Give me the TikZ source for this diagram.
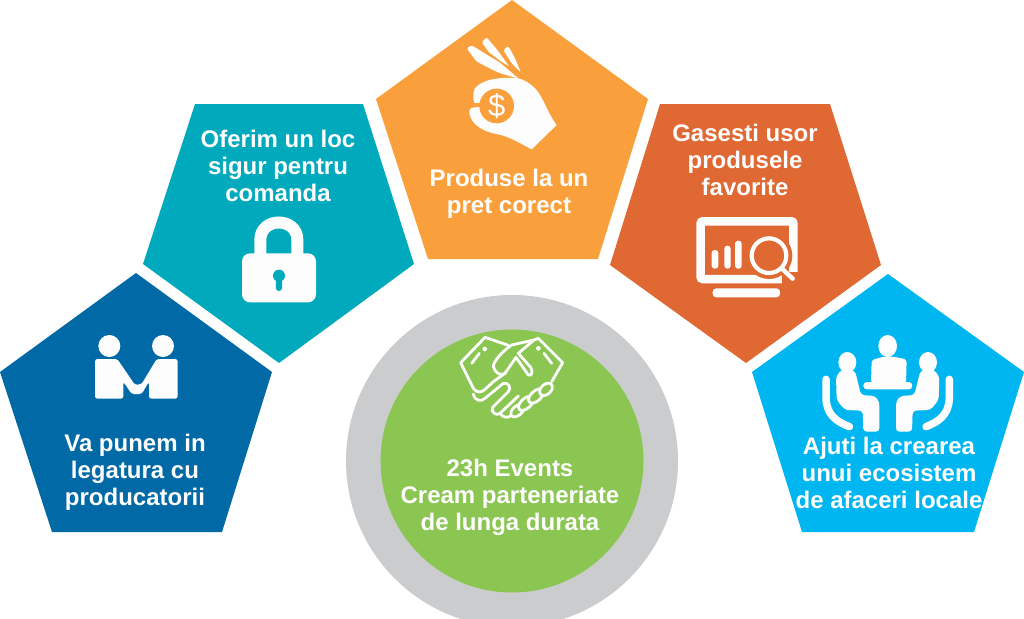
\documentclass[tikz,border=0pt]{standalone}
\usepackage{fontspec}
\setmainfont{Liberation Sans}
\definecolor{cblue}{HTML}{0069A6}
\definecolor{cteal}{HTML}{00A9BC}
\definecolor{corange}{HTML}{F9A03C}
\definecolor{cred}{HTML}{E06832}
\definecolor{ccyan}{HTML}{00B6F0}
\definecolor{cgray}{HTML}{CBCCCE}
\definecolor{cgreen}{HTML}{8BC652}
\definecolor{ink}{HTML}{FDFDFD}
\tikzset{
  lbl/.style={text=ink,align=center,font=\fontsize{24}{27}\selectfont\bfseries,inner sep=0pt},
  ico/.style={fill=ink,draw=none},
  zoomed/.style={shift={#1},scale=0.33333},
  shake/.style={draw=ink,line width=2.8pt,line cap=round,line join=round,fill=none}
}
\begin{document}
\begin{tikzpicture}[x=1pt,y=-1pt]
\useasboundingbox (0,0) rectangle (1024,618);
% pentagons
\fill[cblue] (136,273) -- (272,372) -- (222,532) -- (52,532) -- (0,372) -- cycle;
\fill[cteal] (195,104) -- (363,104) -- (414,264) -- (279,363) -- (143,264) -- cycle;
\fill[corange] (512,0) -- (648,99) -- (598,259) -- (428,259) -- (376,99) -- cycle;
\fill[cred] (660,104) -- (830,104) -- (881,265) -- (746,363) -- (610,265) -- cycle;
\fill[ccyan] (888,274) -- (1024,372) -- (974,532) -- (802,532) -- (752,372) -- cycle;
% centre
\fill[cgray] (512,461) circle (166);
\fill[cgreen] (512,461) circle (131.5);
% people icon
\begin{scope}[zoomed={(0,260)}]
\fill[ico] (328,258) circle (33);
\fill[ico] (489,258) circle (33);
\fill[ico,rounded corners=2.5pt] (285,416) -- (285,297) -- (352,297) -- (405,375) -- (425,372) -- (470,297) -- (533,297) -- (533,416) -- (447,416) -- (447,365) -- (425,402) -- (395,402) -- (370,365) -- (370,416) -- cycle;
\end{scope}
% lock icon
\begin{scope}[zoomed={(140,0)}]
\draw[draw=ink,line width=12pt] (361,770) -- (361,720) .. controls (361,650) and (472,650) .. (472,720) -- (472,770);
\fill[ico,rounded corners=8pt] (306,760) rectangle (528,907);
\fill[cteal] (417,827) circle (18);
\fill[cteal] (407,830) -- (427,830) -- (426,866) .. controls (425,875) and (409,875) .. (408,866) -- cycle;
\end{scope}
% money hand icon
\begin{scope}[zoomed={(420,20)}]
\fill[ico,rounded corners=1.5pt] (140,85) -- (155,76) -- (240,128) -- (296,176) -- (235,158) -- (170,125) -- cycle;
\fill[ico,rounded corners=1.5pt] (185,66) -- (200,52) -- (232,90) -- (268,140) -- (240,122) -- (205,95) -- cycle;
\fill[ico,rounded corners=1.5pt] (250,90) -- (265,78) -- (285,115) -- (303,158) -- (275,130) -- cycle;
\fill[ico] (295,175) .. controls (240,170) and (185,178) .. (165,205) .. controls (155,225) and (160,245) .. (170,262) .. controls (160,262) and (145,262) .. (148,280) .. controls (155,315) and (190,335) .. (230,342) .. controls (270,350) and (300,370) .. (335,388) -- (410,315) .. controls (385,285) and (370,230) .. (345,205) .. controls (330,190) and (315,180) .. (295,175) -- cycle;
\fill[corange] (230,258) circle (52);
\fill[corange] (155,250) rectangle (190,262);
\node[text=ink,font=\fontsize{31}{31}\selectfont] (dollar) at (230,258) {\$};
\end{scope}
% monitor icon
\begin{scope}[zoomed={(670,200)}]
\draw[draw=ink,line width=8.5pt,rounded corners=2pt] (92,64) rectangle (370,237);
\fill[ico,rounded corners=3.5pt] (128,265) rectangle (330,292);
\fill[ico,rounded corners=3pt] (125,150) rectangle (145,206);
\fill[ico,rounded corners=3pt] (163,137) rectangle (182,206);
\fill[ico,rounded corners=3pt] (195,122) rectangle (215,206);
\fill[cred] (297,167) circle (70);
\fill[cred] (335,215) rectangle (395,262);
\draw[draw=ink,line width=4.2pt] (297,167) circle (52);
\draw[draw=ink,line width=4.5pt,line cap=round] (338,208) -- (368,236);
\end{scope}
% meeting icon
\begin{scope}[zoomed={(800,320)}]
\fill[ico] (263,78) ellipse (28 and 33);
\fill[ico,rounded corners=3pt] (215,120) -- (250,110) -- (280,110) -- (320,118) -- (318,190) -- (213,190) -- cycle;
\fill[ico,rounded corners=3.5pt] (190,186) rectangle (337,208);
\foreach \s/\o in {1/0,-1/526}{
 \begin{scope}[shift={(\o,0)},xscale=\s]
 \fill[ico] (142,127) ellipse (27 and 31);
 \fill[ico,rounded corners=3.5pt] (110,240) -- (108,170) -- (125,148) -- (165,152) -- (183,225) -- (225,228) -- (238,245) -- (238,335) -- (190,335) -- (188,272) -- (135,270) -- cycle;
 \draw[draw=ink,line width=7.5pt,line cap=round] (78,178) -- (78,235) .. controls (80,285) and (110,305) .. (148,320);
 \end{scope}
}
\end{scope}
% handshake icon
\begin{scope}[zoomed={(440,320)}]
\draw[shake] (205,76) -- (135,52) -- (62,128) -- (100,205) .. controls (110,220) and (125,218) .. (135,208) -- (160,185) -- (195,160);
\draw[shake] (282,60) -- (215,75) .. controls (185,95) and (160,125) .. (160,140) .. controls (165,160) and (185,170) .. (195,160) -- (228,112) -- (265,165) .. controls (275,170) and (280,155) .. (272,142) -- (235,100) -- (282,60) -- (295,55) -- (368,128) -- (335,185);
\draw[shake] (100,222) .. controls (105,245) and (125,245) .. (135,235) -- (190,190) .. controls (205,185) and (215,205) .. (205,215) -- (158,262) .. controls (150,275) and (170,290) .. (180,280) -- (235,228);
\draw[shake] (180,280) .. controls (190,295) and (205,295) .. (215,285);
\draw[shake,fill=cgreen,rotate around={42:(232,272)}] (232,272) ellipse (23 and 14);
\draw[shake,fill=cgreen,rotate around={42:(258,250)}] (258,250) ellipse (27 and 15);
\draw[shake,fill=cgreen,rotate around={42:(288,228)}] (288,228) ellipse (27 and 15);
\draw[shake,fill=cgreen,rotate around={42:(318,208)}] (318,208) ellipse (22 and 15);
\draw[shake] (95,130) -- (118,100);
\draw[shake] (312,100) -- (335,130);
\fill[ico] (134,87) circle (7);
\fill[ico] (295,85) circle (7);
\end{scope}
% labels
\node[lbl] (t1) at (135,472) {Va punem in\\legatura cu\\producatorii};
\node[lbl] (t2) at (278,166) {Oferim un loc\\sigur pentru\\comanda};
\node[lbl] (t3) at (509,194) {Produse la un\\pret corect};
\node[lbl] (t4) at (745,160) {Gasesti usor\\produsele\\favorite};
\node[lbl] (t5) at (889,473) {Ajuti la crearea\\unui ecosistem\\de afaceri locale};
\node[lbl] (t6) at (510,497.5) {23h Events\\Cream parteneriate\\de lunga durata};
\end{tikzpicture}
\end{document}
